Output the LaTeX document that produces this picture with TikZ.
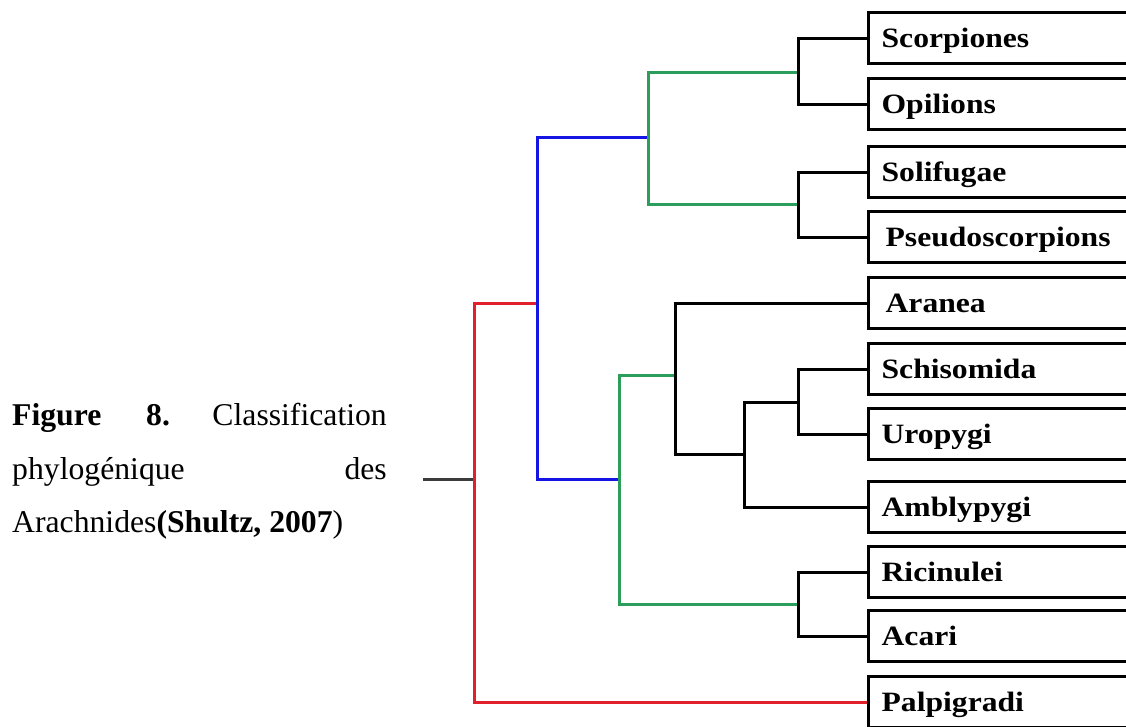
\documentclass[tikz,border=0pt]{standalone}
\usepackage{fontspec}
\setmainfont{Liberation Serif}
\newfontfamily\boxfont[FakeStretch=1.13]{Liberation Serif}
\definecolor{treered}{RGB}{226,32,44}
\definecolor{treeblue}{RGB}{22,22,228}
\definecolor{treegreen}{RGB}{44,158,92}
\definecolor{rootgrey}{RGB}{60,60,60}
\begin{document}
\begin{tikzpicture}[x=1pt,y=-1pt,
  taxon/.style={draw=black, line width=3.2pt, anchor=west, minimum height=51pt,
    text width=262pt, inner xsep=13pt, text height=18pt, text depth=0pt, align=left,
    font=\boxfont\bfseries\fontsize{28}{32}\selectfont},
  capt/.style={inner sep=0pt, font=\fontsize{31.7}{36}\selectfont},
  br/.style={line width=3pt, line join=miter},
  redbr/.style={br, draw=treered},
  bluebr/.style={br, draw=treeblue},
  greenbr/.style={br, draw=treegreen},
  blackbr/.style={br, draw=black},
  rootbr/.style={br, draw=rootgrey}]
\useasboundingbox (0,0) rectangle (1126,726);
\clip (0,0) rectangle (1126,726);
\fill[white] (0,0) rectangle (1126,726);

% caption
\node[capt, anchor=base west] (fig) at (12,425) {\bfseries Figure};
\node[capt, anchor=base west] (num) at (146,425) {\bfseries 8.};
\node[capt, anchor=base east] (cls) at (387,425) {Classification};
\node[capt, anchor=base west] (phy) at (12,479) {phylogénique};
\node[capt, anchor=base east] (des) at (387,479) {des};
\node[capt, anchor=base west] (ara) at (12,532) {Arachnides\textbf{(Shultz, 2007})};

% taxa boxes
\node[taxon] (scorp) at (867,38) {Scorpiones};
\node[taxon] (opil) at (867,104) {Opilions};
\node[taxon] (soli) at (867,172) {Solifugae};
\node[taxon] (pseudo) at (867,237) {\hspace*{4pt}Pseudoscorpions};
\node[taxon] (aran) at (867,303) {\hspace*{4pt}Aranea};
\node[taxon] (schis) at (867,369) {Schisomida};
\node[taxon] (uro) at (867,434) {Uropygi};
\node[taxon] (ambly) at (867,507) {Amblypygi};
\node[taxon] (ricin) at (867,572) {Ricinulei};
\node[taxon] (acari) at (867,636) {Acari};
\node[taxon] (palp) at (867,702) {Palpigradi};

% junctions
\coordinate (root) at (423,479);
\coordinate (r) at (474,479);
\coordinate (b) at (537,303);
\coordinate (g1) at (648,137);
\coordinate (g2) at (619,479);
\coordinate (k1) at (798,72);
\coordinate (k2) at (798,204);
\coordinate (k3) at (675,375);
\coordinate (k4) at (744,454);
\coordinate (k5) at (798,402);
\coordinate (k6) at (798,604);

% connectors
\draw[rootbr] (root) -- (r);
\draw[redbr] (r) |- (b);
\draw[redbr] (r) |- (palp.west);
\draw[bluebr] (b) |- (g1);
\draw[bluebr] (b) |- (g2);
\draw[greenbr] (g1) |- (k1);
\draw[greenbr] (g1) |- (k2);
\draw[greenbr] (g2) |- (k3);
\draw[greenbr] (g2) |- (k6);
\draw[blackbr] (k1) |- (scorp.west);
\draw[blackbr] (k1) |- (opil.west);
\draw[blackbr] (k2) |- (soli.west);
\draw[blackbr] (k2) |- (pseudo.west);
\draw[blackbr] (k3) |- (aran.west);
\draw[blackbr] (k3) |- (k4);
\draw[blackbr] (k4) |- (k5);
\draw[blackbr] (k4) |- (ambly.west);
\draw[blackbr] (k5) |- (schis.west);
\draw[blackbr] (k5) |- (uro.west);
\draw[blackbr] (k6) |- (ricin.west);
\draw[blackbr] (k6) |- (acari.west);
\end{tikzpicture}
\end{document}
